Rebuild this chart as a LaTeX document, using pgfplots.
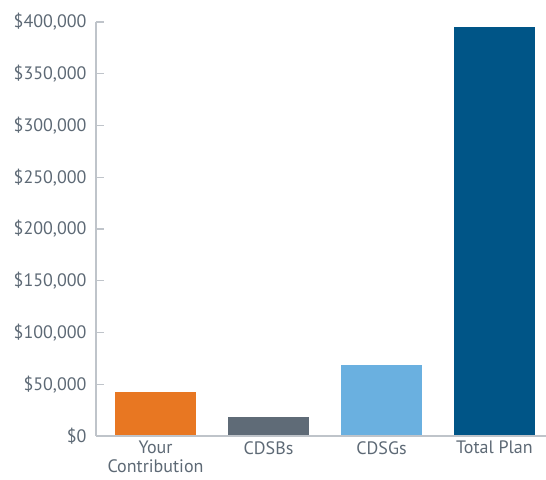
\documentclass[border=0pt]{standalone}
\usepackage{fontspec}
\setmainfont{PT Sans}
\usepackage{pgfplots}
\pgfplotsset{compat=1.18}
\definecolor{txt}{HTML}{5D6975}
\definecolor{axl}{HTML}{BFC4CA}
\definecolor{corange}{HTML}{E87722}
\definecolor{cgray}{HTML}{5F6B77}
\definecolor{clight}{HTML}{6AB0E0}
\definecolor{cdark}{HTML}{005587}
\begin{document}
\begin{tikzpicture}
\begin{axis}[
    scale only axis,
    width=450pt, height=414pt,
    xmin=-0.527, xmax=3.456,
    ymin=0, ymax=400000,
    axis lines=left,
    axis line style={-, draw=axl, line width=1.2pt},
    axis on top,
    ytick={0,50000,100000,150000,200000,250000,300000,350000,400000},
    yticklabels={\$0,{\$50,000},{\$100,000},{\$150,000},{\$200,000},{\$250,000},{\$300,000},{\$350,000},{\$400,000}},
    tick align=inside,
    major tick length=8pt,
    tick style={draw=axl, line width=1.2pt},
    scaled y ticks=false,
    yticklabel style={xshift=-6pt},
    xtick={0,1,2,3},
    xticklabels={{Your\\Contribution},CDSBs,CDSGs,Total Plan},
    xticklabel style={align=center, yshift=3pt, inner ysep=0pt},
    x tick style={draw=none},
    ticklabel style={text=txt, font=\fontsize{18pt}{18.5pt}\selectfont},
    ybar, bar width=81pt, bar shift=0pt,
]
\addplot[draw=none, fill=corange] coordinates {(0,42500)};
\addplot[draw=none, fill=cgray] coordinates {(1,18400)};
\addplot[draw=none, fill=clight] coordinates {(2,68600)};
\addplot[draw=none, fill=cdark] coordinates {(3,395000)};
\end{axis}
\pgfresetboundingbox
\path ([shift={(-96pt,-44pt)}]current axis.south west) rectangle ([shift={(0pt,22pt)}]current axis.north east);
\end{tikzpicture}
\end{document}
